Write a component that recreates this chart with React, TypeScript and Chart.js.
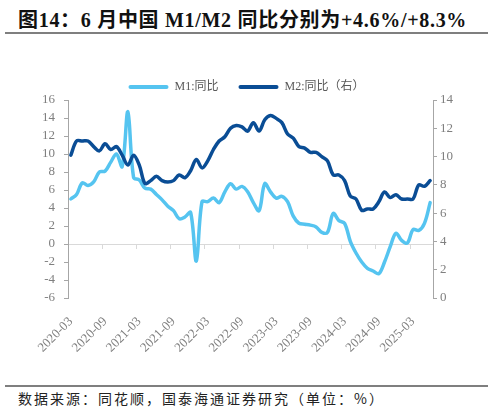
import React, { useRef, useEffect } from 'react';
import { Chart, registerables } from 'chart.js';

Chart.register(...registerables);

// 月份（2020-03 至 2025-06）
const months = [
  '2020-03', '2020-04', '2020-05', '2020-06', '2020-07', '2020-08', '2020-09', '2020-10', '2020-11', '2020-12',
  '2021-01', '2021-02', '2021-03', '2021-04', '2021-05', '2021-06', '2021-07', '2021-08', '2021-09', '2021-10', '2021-11', '2021-12',
  '2022-01', '2022-02', '2022-03', '2022-04', '2022-05', '2022-06', '2022-07', '2022-08', '2022-09', '2022-10', '2022-11', '2022-12',
  '2023-01', '2023-02', '2023-03', '2023-04', '2023-05', '2023-06', '2023-07', '2023-08', '2023-09', '2023-10', '2023-11', '2023-12',
  '2024-01', '2024-02', '2024-03', '2024-04', '2024-05', '2024-06', '2024-07', '2024-08', '2024-09', '2024-10', '2024-11', '2024-12',
  '2025-01', '2025-02', '2025-03', '2025-04', '2025-05', '2025-06',
];

// M1 同比（左轴，%）
const m1Yoy = [
  5.0, 5.5, 6.8, 6.5, 6.9, 8.0, 8.1, 9.1, 10.0, 8.6,
  14.7, 7.4, 7.1, 6.2, 6.1, 5.5, 4.9, 4.2, 3.7, 2.8, 3.0, 3.5,
  -1.9, 4.7, 4.7, 5.1, 4.6, 5.8, 6.7, 6.1, 6.4, 5.8, 4.6, 3.7,
  6.7, 5.8, 5.1, 5.3, 4.7, 3.1, 2.3, 2.2, 2.1, 1.9, 1.3, 1.3,
  3.4, 2.6, 2.3, 0.3, -1.0, -2.0, -2.7, -3.0, -3.3, -2.0, -0.3, 1.2,
  0.4, 0.1, 1.6, 1.5, 2.3, 4.6,
];

// M2 同比（右轴，%）
const m2Yoy = [
  10.1, 11.1, 11.1, 11.1, 10.7, 10.4, 10.9, 10.5, 10.7, 10.1,
  9.4, 10.1, 9.4, 8.1, 8.3, 8.6, 8.3, 8.2, 8.3, 8.7, 8.5, 9.0,
  9.8, 9.2, 9.7, 10.5, 11.1, 11.4, 12.0, 12.2, 12.1, 11.8, 12.4, 11.8,
  12.6, 12.9, 12.7, 12.4, 11.6, 11.3, 10.7, 10.6, 10.3, 10.3, 10.0, 9.7,
  8.7, 8.7, 8.3, 7.2, 7.0, 6.2, 6.3, 6.3, 6.8, 7.5, 7.1, 7.3,
  7.0, 7.0, 7.0, 8.0, 7.9, 8.3,
];

const seriesNames = ['M1:同比', 'M2:同比（右）'];
const labelStep = 6; // 每 6 个月显示一个刻度标签

const M1_COLOR = '#55c4f0';
const M2_COLOR = '#0a4d95';
const AXIS_COLOR = '#a6a6a6';
const ZERO_COLOR = '#d9d9d9';
const TEXT_COLOR = '#7f7f7f';
const SERIF = '"Liberation Serif", "Noto Sans CJK SC", serif';

export default function App() {
  const canvasRef = useRef<HTMLCanvasElement | null>(null);
  const chartRef = useRef<Chart | null>(null);

  useEffect(() => {
    if (!canvasRef.current) return;
    if (chartRef.current) chartRef.current.destroy();

    const lineStyle = {
      borderWidth: 3.5,
      pointRadius: 0,
      tension: 0.35,
      borderCapStyle: 'round' as const,
      borderJoinStyle: 'round' as const,
    };

    chartRef.current = new Chart(canvasRef.current, {
      type: 'line',
      data: {
        labels: months,
        datasets: [
          { label: seriesNames[0], data: m1Yoy, yAxisID: 'y', borderColor: M1_COLOR, backgroundColor: M1_COLOR, order: 1, ...lineStyle },
          { label: seriesNames[1], data: m2Yoy, yAxisID: 'y1', borderColor: M2_COLOR, backgroundColor: M2_COLOR, order: 0, ...lineStyle },
        ],
      },
      options: {
        animation: false,
        responsive: true,
        maintainAspectRatio: false,
        layout: { padding: 0 },
        plugins: {
          tooltip: { enabled: false },
          legend: {
            position: 'top',
            maxHeight: 39,
            labels: {
              boxWidth: 40,
              boxHeight: 4,
              padding: 20,
              color: '#595959',
              font: { family: SERIF, size: 12 },
              useBorderRadius: true,
              borderRadius: 2,
              sort: (a, b) => (a.datasetIndex ?? 0) - (b.datasetIndex ?? 0),
              generateLabels: (chart) =>
                Chart.defaults.plugins.legend.labels.generateLabels(chart).map((item) => ({ ...item, lineWidth: 0 })),
            },
          },
        },
        scales: {
          x: {
            type: 'category',
            offset: true,
            grid: { display: false },
            border: { display: false },
            ticks: {
              autoSkip: false,
              minRotation: 45,
              maxRotation: 45,
              padding: 8,
              color: TEXT_COLOR,
              font: { family: SERIF, size: 13 },
              callback: (_v, i) => (i % labelStep === 0 ? months[i] : ''),
            },
            afterFit: (s) => { s.height = 60; },
          },
          // 0 轴线及其刻度
          x2: {
            type: 'category',
            position: { y: 0 },
            offset: true,
            ticks: { display: false },
            border: { display: true, color: ZERO_COLOR, width: 1 },
            grid: {
              offset: true,
              drawOnChartArea: false,
              drawTicks: true,
              tickLength: 4,
              color: (ctx) => (ctx.index % labelStep === 0 ? ZERO_COLOR : 'rgba(0,0,0,0)'),
            },
          },
          y: {
            type: 'linear',
            position: 'left',
            min: -6,
            max: 16,
            ticks: { stepSize: 2, autoSkip: false, padding: 9, color: TEXT_COLOR, font: { family: SERIF, size: 13 } },
            grid: { drawOnChartArea: false, tickLength: 4, color: AXIS_COLOR },
            border: { color: AXIS_COLOR },
            afterFit: (s) => { s.width = 68; },
          },
          y1: {
            type: 'linear',
            position: 'right',
            min: 0,
            max: 14,
            ticks: { stepSize: 2, autoSkip: false, padding: 3, color: TEXT_COLOR, font: { family: SERIF, size: 13 } },
            grid: { drawOnChartArea: false, tickLength: 4, color: AXIS_COLOR },
            border: { color: AXIS_COLOR },
            afterFit: (s) => { s.width = 60; },
          },
        },
      },
    });

    return () => {
      if (chartRef.current) {
        chartRef.current.destroy();
        chartRef.current = null;
      }
    };
  }, []);

  return (
    <div style={{ position: 'fixed', left: 0, top: 0, width: 493, height: 416, background: '#fff', overflow: 'hidden' }}>
      <div
        style={{
          position: 'absolute', left: 18, top: 4, whiteSpace: 'nowrap',
          fontFamily: SERIF, fontWeight: 'bold', fontSize: 20, color: '#111', letterSpacing: 0.7,
        }}
      >
        图14：6 月中国 M1/M2 同比分别为+4.6%/+8.3%
      </div>
      <div style={{ position: 'absolute', left: 5, top: 32, width: 483, height: 2, background: '#7f7f7f' }} />
      <div style={{ position: 'absolute', left: 0, top: 61, width: 493, height: 297 }}>
        <canvas ref={canvasRef}></canvas>
      </div>
      <div style={{ position: 'absolute', left: 5, top: 385, width: 483, height: 1.5, background: '#7f7f7f' }} />
      <div
        style={{
          position: 'absolute', left: 18, top: 388, whiteSpace: 'nowrap',
          fontFamily: '"Noto Sans CJK SC", sans-serif', fontSize: 14, color: '#222', letterSpacing: 2,
        }}
      >
        数据来源：同花顺，国泰海通证券研究（单位：%）
      </div>
    </div>
  );
}
